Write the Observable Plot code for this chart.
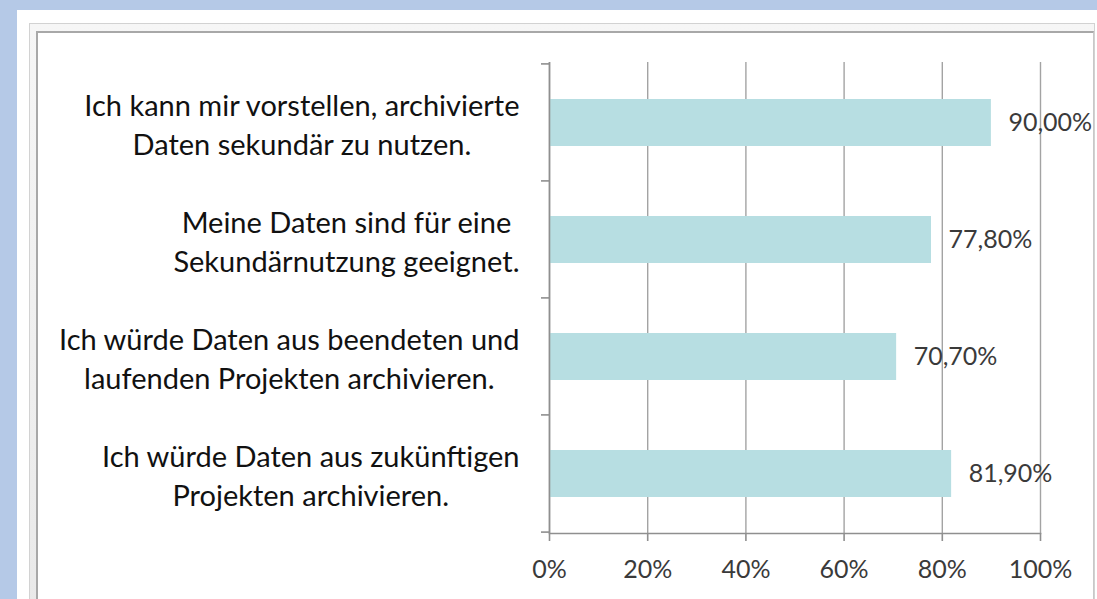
<!DOCTYPE html>
<html>
<head>
<meta charset="utf-8">
<script src="https://cdn.jsdelivr.net/npm/d3@7"></script>
<script src="https://cdn.jsdelivr.net/npm/@observablehq/plot@0.6"></script>
<style>
  html, body { margin: 0; padding: 0; width: 1097px; height: 599px; overflow: hidden; background: #b5c9e7; }
  #panel { position: absolute; left: 17px; top: 10px; width: 1100px; height: 600px; background: #ffffff; }
  #frame { position: absolute; left: 29px; top: 23px; width: 1066px; height: 600px;
           background: linear-gradient(#f6f6f6, #e9e9e9); border-left: 1px solid #d2d2d2; border-top: 1px solid #d2d2d2; border-right: 1px solid #d2d2d2; box-sizing: border-box; }
  #inner { position: absolute; left: 36px; top: 31px; width: 1058px; height: 600px; background: #ffffff;
           border-left: 2px solid #a8a8a8; border-top: 2px solid #a8a8a8; border-right: 1px solid #c8c8c8; box-sizing: border-box; }
  #chart { position: absolute; left: 0; top: 0; }
</style>
</head>
<body>
<div id="panel"></div>
<div id="frame"></div>
<div id="inner"></div>
<div id="chart"></div>
<script>
const categories = [
  "Ich kann mir vorstellen, archivierte\nDaten sekundär zu nutzen.",
  "Meine Daten sind für eine\nSekundärnutzung geeignet.",
  "Ich würde Daten aus beendeten und\nlaufenden Projekten archivieren.",
  "Ich würde Daten aus zukünftigen\nProjekten archivieren."
];
const values = [0.900, 0.778, 0.707, 0.819];
const valueLabels = ["90,00%", "77,80%", "70,70%", "81,90%"];
const xTicks = [0, 0.2, 0.4, 0.6, 0.8, 1.0];
const xTickLabels = ["0%", "20%", "40%", "60%", "80%", "100%"];

const data = categories.map((c, i) => ({category: c, value: values[i], label: valueLabels[i]}));

const plot = Plot.plot({
  width: 1097,
  height: 599,
  marginLeft: 549,
  marginRight: 57,
  marginTop: 62,
  marginBottom: 66,
  style: {background: "transparent", fontFamily: "Lato, 'Open Sans', sans-serif", overflow: "visible"},
  x: {domain: [0, 1]},
  y: {domain: categories, paddingInner: 0.6, paddingOuter: 0.3},
  marks: [
    Plot.ruleX(xTicks, {stroke: "#a3a3a3", strokeWidth: 1.4}),
    Plot.barX(data, {x: "value", y: "category", fill: "#b7dee2"}),
    Plot.ruleX([0], {stroke: "#8f8f8f", strokeWidth: 1.6}),
    Plot.frame({anchor: "bottom", stroke: "#8f8f8f", strokeWidth: 1.6}),
    Plot.text(data, {x: "value", y: "category", text: "label", textAnchor: "start", dx: 17,
                     fontSize: 25, fill: "#3a3a3a"}),
    Plot.axisX({ticks: xTicks, tickFormat: (d, i) => xTickLabels[i], tickSize: 8, tickPadding: 19,
                fontSize: 25, stroke: "#8f8f8f", strokeWidth: 1.6, fill: "#3a3a3a", label: null}),
    Plot.axisY({tickSize: 0, tickPadding: 30, fontSize: 29, lineHeight: 1.35,
                fill: "#111111", label: null})
  ]
});

document.getElementById("chart").appendChild(plot);

// centre the lines of each multi-line category label (Excel-style)
d3.select(plot).selectAll('g[aria-label="y-axis tick label"] text').each(function () {
  const spans = Array.from(this.querySelectorAll("tspan"));
  if (spans.length < 2) return;
  const widths = spans.map(s => s.getComputedTextLength());
  const W = Math.max(...widths);
  spans.forEach((s, i) => s.setAttribute("x", -(W - widths[i]) / 2));
});

// category boundary ticks on the y axis
const ys = plot.scale("y");
const xs = plot.scale("x");
const x0 = xs.apply(0);
const half = ys.step * ys.paddingInner / 2;
const bounds = categories.map(c => ys.apply(c) - half);
bounds.push(ys.apply(categories[categories.length - 1]) + ys.bandwidth + half);
d3.select(plot).append("g")
  .attr("stroke", "#8f8f8f").attr("stroke-width", 1.6)
  .selectAll("line").data(bounds).join("line")
  .attr("x1", x0 - 8).attr("x2", x0)
  .attr("y1", d => d).attr("y2", d => d);
</script>
</body>
</html>
